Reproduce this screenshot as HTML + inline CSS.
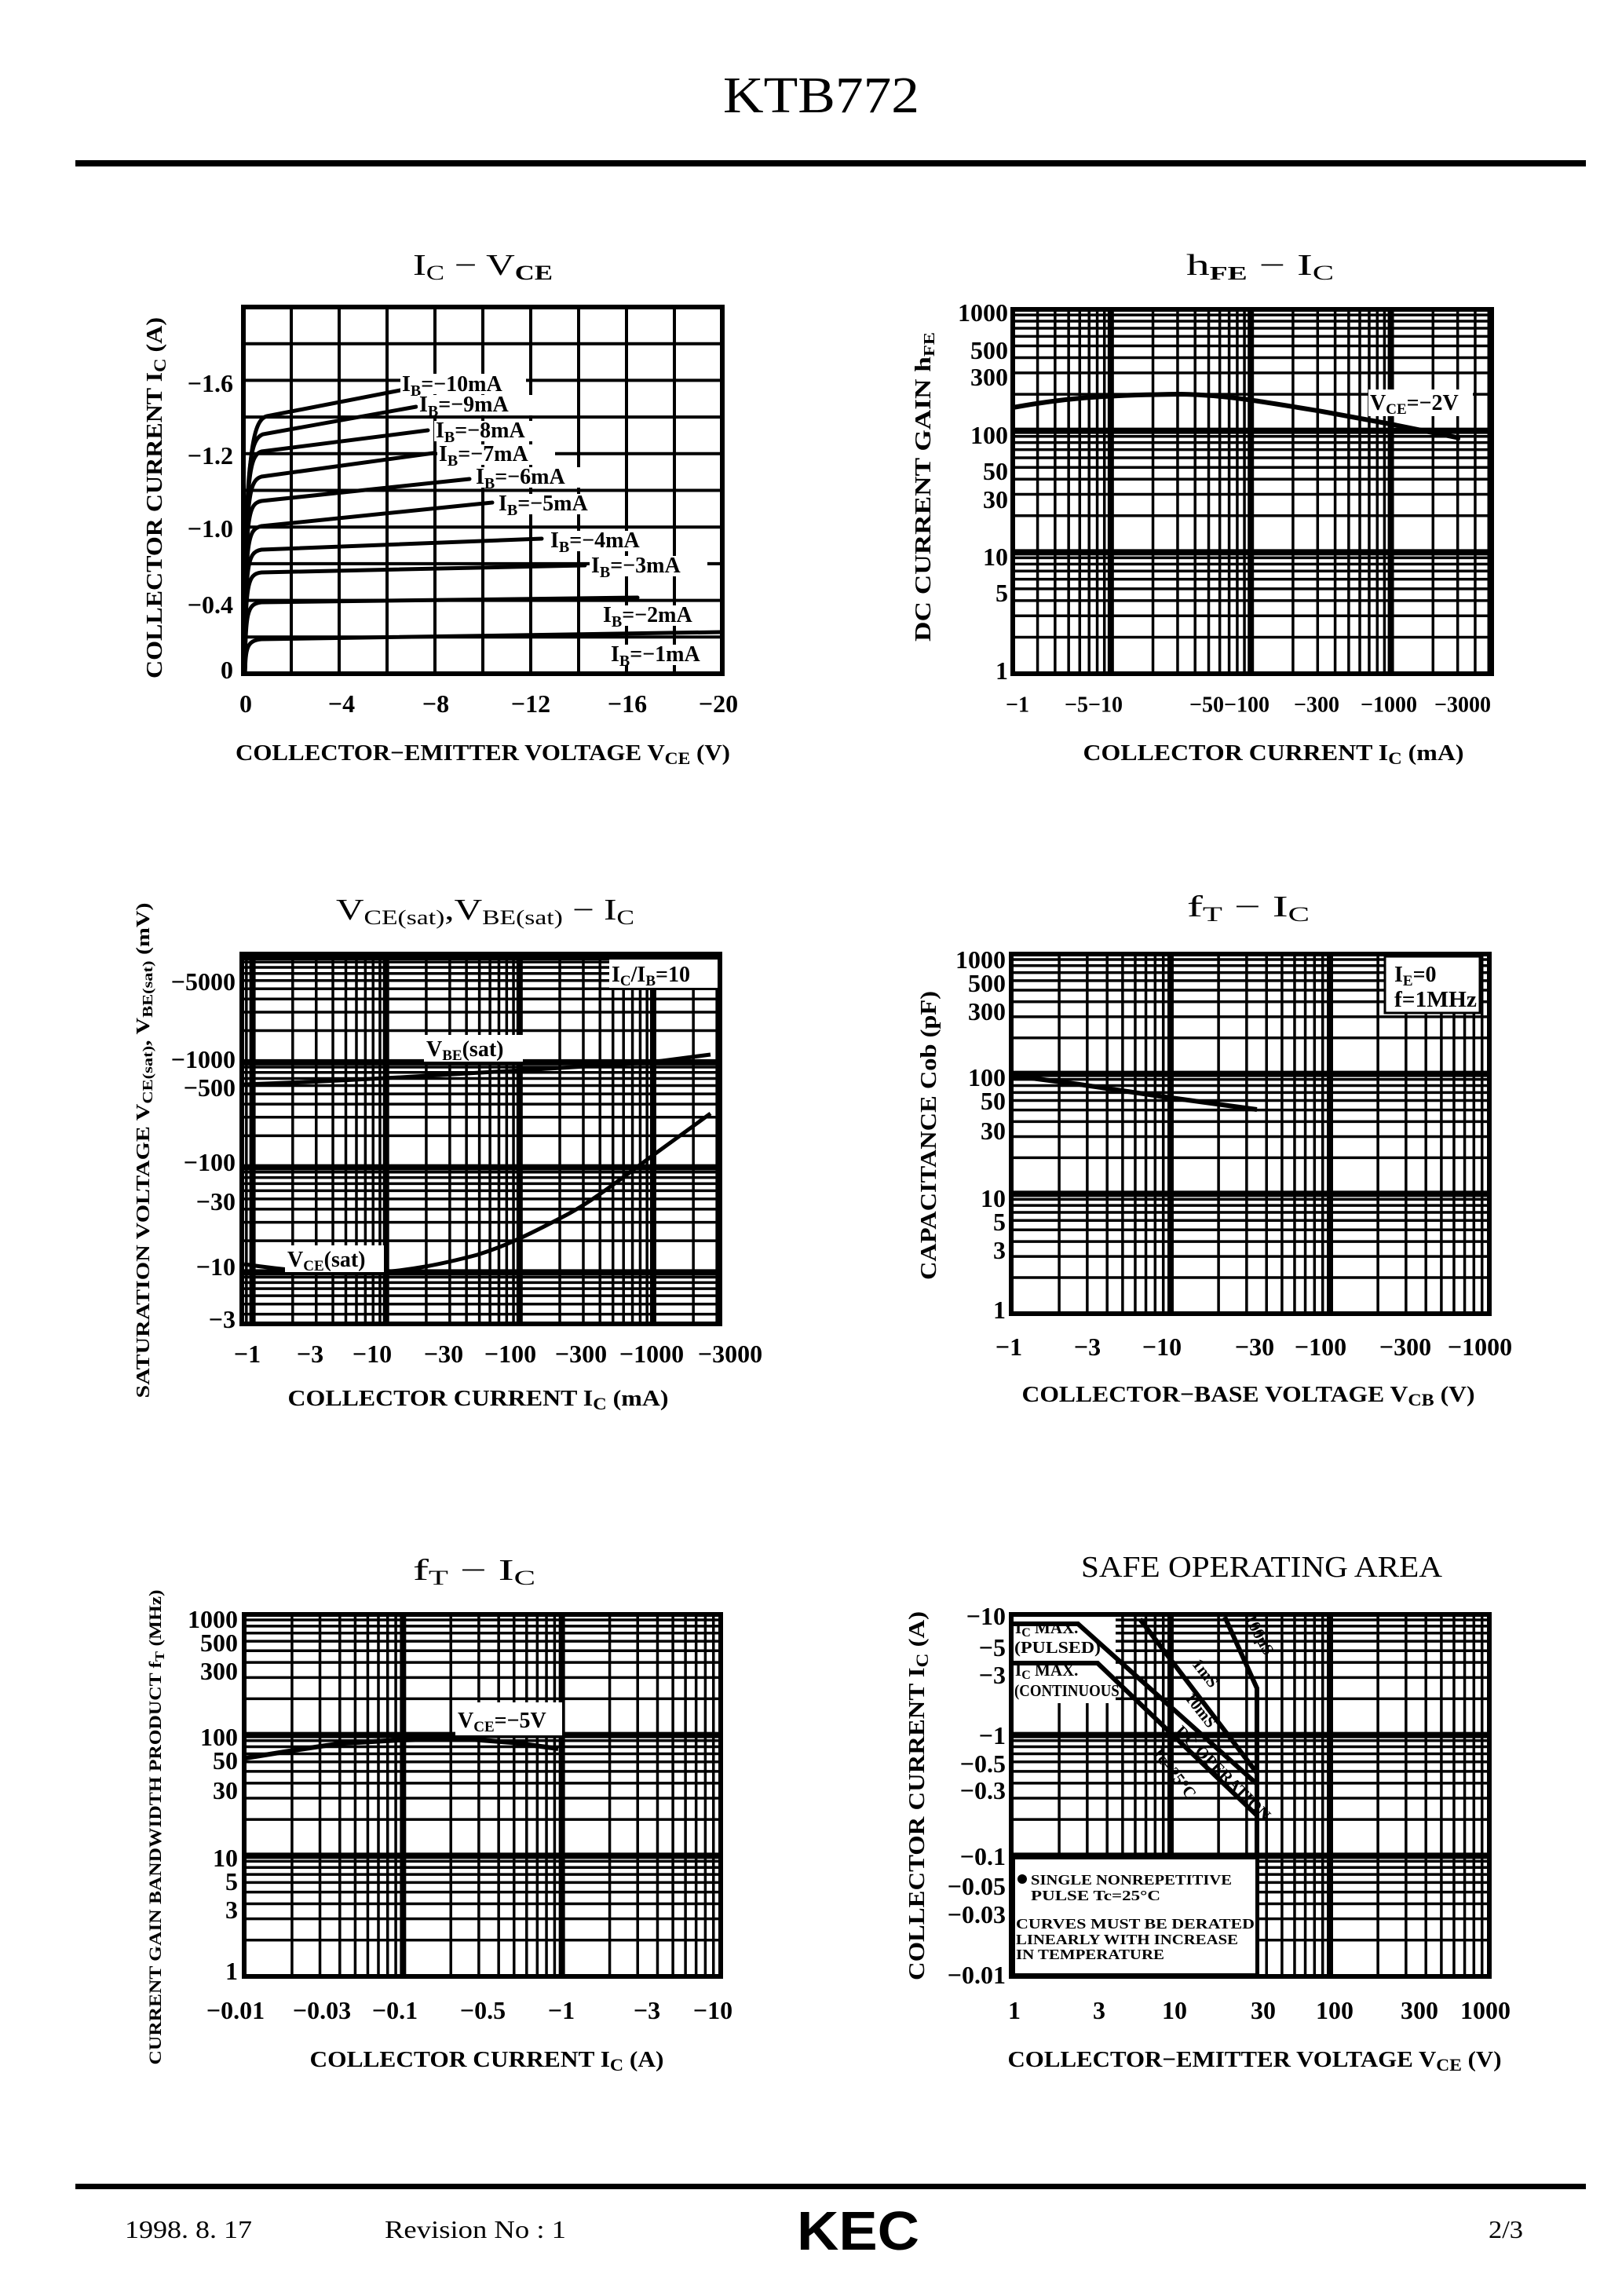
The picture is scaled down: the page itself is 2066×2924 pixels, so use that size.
<!DOCTYPE html>
<html><head><meta charset="utf-8"><style>
html,body{margin:0;padding:0;background:#fff}
svg{display:block}
text{font-family:"Liberation Serif",serif;fill:#000}
.t{font-size:30px;font-weight:bold}
.tk{font-size:32px;font-weight:bold}
.ax{font-size:29px;font-weight:bold}
.ti{font-size:38px}
.lb{font-size:28px;font-weight:bold}
.sm{font-size:21px;font-weight:bold}
.xs{font-size:18px;font-weight:bold}
</style></head><body>
<svg id="s" width="2066" height="2924" viewBox="0 0 2066 2924" xmlns="http://www.w3.org/2000/svg">
<rect width="2066" height="2924" fill="#fff"/>
<!-- header -->
<text x="1046" y="143" text-anchor="middle" style="font-size:66px" textLength="250" lengthAdjust="spacingAndGlyphs">KTB772</text>
<rect x="96" y="204" width="1924" height="8" fill="#000"/>
<!-- footer -->
<rect x="96" y="2781" width="1924" height="7" fill="#000"/>
<text x="159" y="2850" style="font-size:32px" textLength="162" lengthAdjust="spacingAndGlyphs">1998. 8. 17</text>
<text x="490" y="2850" style="font-size:32px" textLength="231" lengthAdjust="spacingAndGlyphs">Revision No : 1</text>
<text x="1015" y="2865" style="font-family:'Liberation Sans',sans-serif;font-size:70px;font-weight:bold" textLength="156" lengthAdjust="spacingAndGlyphs">KEC</text>
<text x="1896" y="2850" style="font-size:32px" textLength="44" lengthAdjust="spacingAndGlyphs">2/3</text>

<g id="grids"></g>

<!-- ============ CHART 1 ============ -->
<text class="ti" x="615" y="350" text-anchor="middle" textLength="178" lengthAdjust="spacingAndGlyphs">I<tspan font-size="26" dy="6">C</tspan><tspan dy="-6">  −  V</tspan><tspan font-size="26" font-weight="bold" dy="6">CE</tspan></text>
<g fill="none" stroke="#000" stroke-width="5" stroke-linecap="round">
<path d="M312,858 C313,600 318,535 340,530 L510,497"/>
<path d="M312,858 C313,600 316,560 335,553 L530,518"/>
<path d="M312,858 C313,620 315,580 333,575 L545,548"/>
<path d="M312,858 C313,640 315,612 333,607 L552,577"/>
<path d="M312,858 C313,660 314,642 333,638 L598,610"/>
<path d="M312,858 C313,690 314,674 333,670 L627,640"/>
<path d="M312,858 C313,720 314,703 333,700 L690,686"/>
<path d="M312,858 C313,745 314,731 333,729 L745,720"/>
<path d="M312,858 C313,780 314,769 333,767 L812,761"/>
<path d="M312,858 C313,825 314,816 333,814 L918,805"/>
</g>
<g class="lb">
<rect x="510" y="476" width="160" height="26" fill="#fff"/>
<text x="512" y="498">I<tspan font-size="20" dy="6">B</tspan><tspan dy="-6">=−10mA</tspan></text>
<rect x="532" y="503" width="150" height="26" fill="#fff"/>
<text x="534" y="524">I<tspan font-size="20" dy="6">B</tspan><tspan dy="-6">=−9mA</tspan></text>
<rect x="553" y="536" width="150" height="26" fill="#fff"/>
<text x="555" y="557">I<tspan font-size="20" dy="6">B</tspan><tspan dy="-6">=−8mA</tspan></text>
<rect x="557" y="566" width="150" height="26" fill="#fff"/>
<text x="559" y="587">I<tspan font-size="20" dy="6">B</tspan><tspan dy="-6">=−7mA</tspan></text>
<rect x="604" y="595" width="150" height="26" fill="#fff"/>
<text x="606" y="616">I<tspan font-size="20" dy="6">B</tspan><tspan dy="-6">=−6mA</tspan></text>
<rect x="633" y="629" width="150" height="26" fill="#fff"/>
<text x="635" y="650">I<tspan font-size="20" dy="6">B</tspan><tspan dy="-6">=−5mA</tspan></text>
<rect x="699" y="676" width="150" height="26" fill="#fff"/>
<text x="701" y="697">I<tspan font-size="20" dy="6">B</tspan><tspan dy="-6">=−4mA</tspan></text>
<rect x="751" y="708" width="150" height="26" fill="#fff"/>
<text x="753" y="729">I<tspan font-size="20" dy="6">B</tspan><tspan dy="-6">=−3mA</tspan></text>
<rect x="766" y="771" width="150" height="26" fill="#fff"/>
<text x="768" y="792">I<tspan font-size="20" dy="6">B</tspan><tspan dy="-6">=−2mA</tspan></text>
<rect x="776" y="821" width="140" height="26" fill="#fff"/>
<text x="778" y="842">I<tspan font-size="20" dy="6">B</tspan><tspan dy="-6">=−1mA</tspan></text>
</g>
<g class="tk" text-anchor="end" dominant-baseline="central">
<text x="297" y="488">−1.6</text><text x="297" y="580">−1.2</text><text x="297" y="673">−1.0</text><text x="297" y="770">−0.4</text><text x="297" y="853">0</text>
</g>
<g class="tk" text-anchor="middle" dominant-baseline="central">
<text x="313" y="896">0</text><text x="435" y="896">−4</text><text x="555" y="896">−8</text><text x="676" y="896">−12</text><text x="799" y="896">−16</text><text x="915" y="896">−20</text>
</g>
<text class="ax" x="615" y="968" text-anchor="middle" textLength="630" lengthAdjust="spacingAndGlyphs">COLLECTOR−EMITTER  VOLTAGE  V<tspan font-size="22" dy="5">CE</tspan><tspan dy="-5">  (V)</tspan></text>
<text class="ax" transform="translate(206,634) rotate(-90)" text-anchor="middle" textLength="460" lengthAdjust="spacingAndGlyphs">COLLECTOR  CURRENT  I<tspan font-size="22" dy="5">C</tspan><tspan dy="-5">  (A)</tspan></text>

<!-- ============ CHART 2 ============ -->
<text class="ti" x="1605" y="350" text-anchor="middle" textLength="188" lengthAdjust="spacingAndGlyphs">h<tspan font-size="24" font-weight="bold" dy="6">FE</tspan><tspan dy="-6">  −  I</tspan><tspan font-size="26" dy="6">C</tspan></text>
<path d="M1290,519 C1350,508 1400,503 1504,502 C1560,503 1600,510 1684,524 L1771,540 L1860,558" fill="none" stroke="#000" stroke-width="6"/>
<rect x="1743" y="496" width="133" height="34" fill="#fff"/>
<text class="lb" x="1745" y="522">V<tspan font-size="19" dy="5">CE</tspan><tspan dy="-5">=−2V</tspan></text>
<g class="tk" text-anchor="end" dominant-baseline="central">
<text x="1284" y="398">1000</text><text x="1284" y="446">500</text><text x="1284" y="480">300</text><text x="1284" y="554">100</text><text x="1284" y="600">50</text><text x="1284" y="636">30</text><text x="1284" y="709">10</text><text x="1284" y="755">5</text><text x="1284" y="854">1</text>
</g>
<g class="tk" text-anchor="middle" dominant-baseline="central" style="font-size:28px">
<text x="1296" y="898">−1</text><text x="1393" y="898">−5−10</text><text x="1566" y="898">−50−100</text><text x="1677" y="898">−300</text><text x="1769" y="898">−1000</text><text x="1863" y="898">−3000</text>
</g>
<text class="ax" x="1622" y="968" text-anchor="middle" textLength="485" lengthAdjust="spacingAndGlyphs">COLLECTOR  CURRENT  I<tspan font-size="22" dy="5">C</tspan><tspan dy="-5">  (mA)</tspan></text>
<text class="ax" transform="translate(1185,620) rotate(-90)" text-anchor="middle" textLength="394" lengthAdjust="spacingAndGlyphs">DC  CURRENT  GAIN  h<tspan font-size="20" dy="5">FE</tspan></text>

<!-- ============ CHART 3 ============ -->
<text class="ti" x="618" y="1171" text-anchor="middle" textLength="380" lengthAdjust="spacingAndGlyphs">V<tspan font-size="26" dy="6">CE(sat)</tspan><tspan dy="-6">,V</tspan><tspan font-size="26" dy="6">BE(sat)</tspan><tspan dy="-6">  −  I</tspan><tspan font-size="26" dy="6">C</tspan></text>
<g fill="none" stroke="#000" stroke-width="5">
<path d="M311,1381 C400,1378 480,1374 560,1369 C650,1364 750,1358 828,1353 L905,1343"/>
<path d="M311,1610 C360,1617 410,1622 455,1622 C520,1620 570,1608 608,1598 C640,1588 665,1577 722,1547 C750,1532 777,1512 828,1474 L905,1418"/>
</g>
<rect x="540" y="1318" width="126" height="34" fill="#fff"/>
<text class="lb" x="543" y="1345">V<tspan font-size="19" dy="5">BE</tspan><tspan dy="-5">(sat)</tspan></text>
<rect x="363" y="1586" width="126" height="34" fill="#fff"/>
<text class="lb" x="366" y="1613">V<tspan font-size="19" dy="5">CE</tspan><tspan dy="-5">(sat)</tspan></text>
<rect x="776" y="1222" width="138" height="36" fill="#fff"/>
<text class="lb" x="779" y="1250">I<tspan font-size="19" dy="5">C</tspan><tspan dy="-5">/I</tspan><tspan font-size="19" dy="5">B</tspan><tspan dy="-5">=10</tspan></text>
<g class="tk" text-anchor="end" dominant-baseline="central">
<text x="300" y="1250">−5000</text><text x="300" y="1349">−1000</text><text x="300" y="1385">−500</text><text x="300" y="1480">−100</text><text x="300" y="1530">−30</text><text x="300" y="1613">−10</text><text x="300" y="1680">−3</text>
</g>
<g class="tk" text-anchor="middle" dominant-baseline="central">
<text x="315" y="1724">−1</text><text x="395" y="1724">−3</text><text x="474" y="1724">−10</text><text x="565" y="1724">−30</text><text x="650" y="1724">−100</text><text x="740" y="1724">−300</text><text x="830" y="1724">−1000</text><text x="930" y="1724">−3000</text>
</g>
<text class="ax" x="609" y="1790" text-anchor="middle" textLength="485" lengthAdjust="spacingAndGlyphs">COLLECTOR  CURRENT  I<tspan font-size="22" dy="5">C</tspan><tspan dy="-5">  (mA)</tspan></text>
<text class="ax" transform="translate(190,1465) rotate(-90)" text-anchor="middle" style="font-size:24px" textLength="631" lengthAdjust="spacingAndGlyphs">SATURATION  VOLTAGE  V<tspan font-size="18" dy="4">CE(sat)</tspan><tspan dy="-4">, V</tspan><tspan font-size="18" dy="4">BE(sat)</tspan><tspan dy="-4">  (mV)</tspan></text>

<!-- ============ CHART 4 ============ -->
<text class="ti" x="1590" y="1167" text-anchor="middle" textLength="156" lengthAdjust="spacingAndGlyphs">f<tspan font-size="26" dy="6">T</tspan><tspan dy="-6">  −  I</tspan><tspan font-size="26" dy="6">C</tspan></text>
<path d="M1291,1370 L1375,1381 L1484,1397 L1601,1413" fill="none" stroke="#000" stroke-width="6"/>
<rect x="1764" y="1218" width="121" height="72" fill="#fff" stroke="#000" stroke-width="3"/>
<text class="lb" x="1776" y="1250">I<tspan font-size="19" dy="5">E</tspan><tspan dy="-5">=0</tspan></text>
<text class="lb" x="1776" y="1282" textLength="105" lengthAdjust="spacingAndGlyphs">f=1MHz</text>
<g class="tk" text-anchor="end" dominant-baseline="central">
<text x="1281" y="1222">1000</text><text x="1281" y="1252">500</text><text x="1281" y="1288">300</text><text x="1281" y="1372">100</text><text x="1281" y="1402">50</text><text x="1281" y="1440">30</text><text x="1281" y="1526">10</text><text x="1281" y="1556">5</text><text x="1281" y="1592">3</text><text x="1281" y="1668">1</text>
</g>
<g class="tk" text-anchor="middle" dominant-baseline="central">
<text x="1285" y="1715">−1</text><text x="1385" y="1715">−3</text><text x="1480" y="1715">−10</text><text x="1598" y="1715">−30</text><text x="1682" y="1715">−100</text><text x="1790" y="1715">−300</text><text x="1885" y="1715">−1000</text>
</g>
<text class="ax" x="1590" y="1785" text-anchor="middle" textLength="577" lengthAdjust="spacingAndGlyphs">COLLECTOR−BASE  VOLTAGE  V<tspan font-size="22" dy="5">CB</tspan><tspan dy="-5">  (V)</tspan></text>
<text class="ax" transform="translate(1192,1446) rotate(-90)" text-anchor="middle" textLength="368" lengthAdjust="spacingAndGlyphs">CAPACITANCE  Cob  (pF)</text>

<!-- ============ CHART 5 ============ -->
<text class="ti" x="604" y="2012" text-anchor="middle" textLength="156" lengthAdjust="spacingAndGlyphs">f<tspan font-size="26" dy="6">T</tspan><tspan dy="-6">  −  I</tspan><tspan font-size="26" dy="6">C</tspan></text>
<path d="M313,2239 C380,2228 420,2222 439,2220 L510,2216 L586,2214 L651,2219 L711,2227" fill="none" stroke="#000" stroke-width="6"/>
<rect x="580" y="2168" width="136" height="42" fill="#fff"/>
<text class="lb" x="583" y="2200">V<tspan font-size="19" dy="5">CE</tspan><tspan dy="-5">=−5V</tspan></text>
<g class="tk" text-anchor="end" dominant-baseline="central">
<text x="303" y="2062">1000</text><text x="303" y="2092">500</text><text x="303" y="2128">300</text><text x="303" y="2212">100</text><text x="303" y="2242">50</text><text x="303" y="2280">30</text><text x="303" y="2366">10</text><text x="303" y="2396">5</text><text x="303" y="2432">3</text><text x="303" y="2510">1</text>
</g>
<g class="tk" text-anchor="middle" dominant-baseline="central">
<text x="300" y="2560">−0.01</text><text x="410" y="2560">−0.03</text><text x="503" y="2560">−0.1</text><text x="615" y="2560">−0.5</text><text x="715" y="2560">−1</text><text x="824" y="2560">−3</text><text x="908" y="2560">−10</text>
</g>
<text class="ax" x="620" y="2632" text-anchor="middle" textLength="451" lengthAdjust="spacingAndGlyphs">COLLECTOR  CURRENT  I<tspan font-size="22" dy="5">C</tspan><tspan dy="-5">  (A)</tspan></text>
<text class="ax" transform="translate(205,2327) rotate(-90)" text-anchor="middle" style="font-size:22px" textLength="605" lengthAdjust="spacingAndGlyphs">CURRENT  GAIN  BANDWIDTH  PRODUCT  f<tspan font-size="17" dy="4">T</tspan><tspan dy="-4">  (MHz)</tspan></text>

<!-- ============ CHART 6 ============ -->
<text class="ti" x="1607" y="2008" text-anchor="middle" textLength="460" lengthAdjust="spacingAndGlyphs">SAFE  OPERATING  AREA</text>
<rect x="1291" y="2059" width="130" height="110" fill="#fff"/>
<g fill="none" stroke="#000" stroke-width="6">
<path d="M1288,2068 L1373,2068 L1601,2272"/>
<path d="M1452,2062 L1601,2258"/>
<path d="M1288,2118 L1398,2118 L1601,2312"/>
<path d="M1560,2059 L1601,2150 L1601,2517"/>
</g>
<g class="sm">
<text x="1293" y="2080">I<tspan font-size="16" dy="4">C</tspan><tspan dy="-4">  MAX.</tspan></text>
<text x="1292" y="2105" textLength="110" lengthAdjust="spacingAndGlyphs">(PULSED)</text>
<text x="1293" y="2134">I<tspan font-size="16" dy="4">C</tspan><tspan dy="-4">  MAX.</tspan></text>
<text x="1292" y="2160" textLength="140" lengthAdjust="spacingAndGlyphs">(CONTINUOUS)</text>
</g>
<g class="sm">
<text transform="translate(1530,2135) rotate(52)" text-anchor="middle">1mS</text>
<text transform="translate(1524,2182) rotate(52)" text-anchor="middle">10mS</text>
<text transform="translate(1598,2085) rotate(62)" text-anchor="middle">100μS</text>
<text transform="translate(1553,2263) rotate(45)" text-anchor="middle">DC  OPERATION</text>
<text transform="translate(1490,2262) rotate(52)" text-anchor="middle">Tc=25°C</text>
</g>
<rect x="1291" y="2366" width="310" height="149" fill="#fff" stroke="#000" stroke-width="4"/>
<g class="xs">
<circle cx="1302" cy="2393" r="6" fill="#000"/>
<text x="1313" y="2400" textLength="256" lengthAdjust="spacingAndGlyphs">SINGLE  NONREPETITIVE</text>
<text x="1313" y="2420" textLength="165" lengthAdjust="spacingAndGlyphs">PULSE  Tc=25°C</text>
<text x="1294" y="2456" textLength="304" lengthAdjust="spacingAndGlyphs">CURVES  MUST  BE  DERATED</text>
<text x="1294" y="2476" textLength="283" lengthAdjust="spacingAndGlyphs">LINEARLY  WITH  INCREASE</text>
<text x="1294" y="2495" textLength="189" lengthAdjust="spacingAndGlyphs">IN  TEMPERATURE</text>
</g>
<g class="tk" text-anchor="end" dominant-baseline="central">
<text x="1281" y="2058">−10</text><text x="1281" y="2098">−5</text><text x="1281" y="2133">−3</text><text x="1281" y="2210">−1</text><text x="1281" y="2246">−0.5</text><text x="1281" y="2280">−0.3</text><text x="1281" y="2364">−0.1</text><text x="1281" y="2402">−0.05</text><text x="1281" y="2438">−0.03</text><text x="1281" y="2515">−0.01</text>
</g>
<g class="tk" text-anchor="middle" dominant-baseline="central">
<text x="1292" y="2560">1</text><text x="1400" y="2560">3</text><text x="1496" y="2560">10</text><text x="1609" y="2560">30</text><text x="1700" y="2560">100</text><text x="1808" y="2560">300</text><text x="1892" y="2560">1000</text>
</g>
<text class="ax" x="1598" y="2632" text-anchor="middle" textLength="629" lengthAdjust="spacingAndGlyphs">COLLECTOR−EMITTER  VOLTAGE  V<tspan font-size="22" dy="5">CE</tspan><tspan dy="-5">  (V)</tspan></text>
<text class="ax" transform="translate(1177,2287) rotate(-90)" text-anchor="middle" textLength="470" lengthAdjust="spacingAndGlyphs">COLLECTOR  CURRENT  I<tspan font-size="22" dy="5">C</tspan><tspan dy="-5">  (A)</tspan></text>
</svg>
<script>
(function(){
var NS="http://www.w3.org/2000/svg",g=document.getElementById("grids");
function L(x1,y1,x2,y2,w){var l=document.createElementNS(NS,"line");l.setAttribute("x1",x1);l.setAttribute("y1",y1);l.setAttribute("x2",x2);l.setAttribute("y2",y2);l.setAttribute("stroke","#000");l.setAttribute("stroke-width",w);g.appendChild(l);}
function R(x0,y0,x1,y1){var r=document.createElementNS(NS,"rect");r.setAttribute("x",x0);r.setAttribute("y",y0);r.setAttribute("width",x1-x0);r.setAttribute("height",y1-y0);r.setAttribute("fill","none");r.setAttribute("stroke","#000");r.setAttribute("stroke-width",6);g.appendChild(r);}
function lg(X0,X1,Y0,Y1,xl,xh,yl,yh){
 var d,m,v,p;
 for(d=Math.floor(xl);d<=Math.ceil(xh);d++)for(m=1;m<=9;m++){v=d+Math.log10(m);if(v<=xl+0.005||v>=xh-0.005)continue;p=X0+(v-xl)/(xh-xl)*(X1-X0);L(p,Y0,p,Y1,m==1?8:3.5);}
 for(d=Math.floor(yl);d<=Math.ceil(yh);d++)for(m=1;m<=9;m++){v=d+Math.log10(m);if(v<=yl+0.005||v>=yh-0.005)continue;p=Y1-(v-yl)/(yh-yl)*(Y1-Y0);L(X0,p,X1,p,m==1?8:3.5);}
 R(X0,Y0,X1,Y1);
}
var i;for(i=1;i<10;i++){L(310+i*61,391,310+i*61,858,4);L(310,391+i*46.7,920,391+i*46.7,4);}R(310,391,920,858);
lg(1290,1900,394,858,0.30,3.72,0,3);
lg(308,917,1215,1686,-0.08,3.5,0.51,4.03);
lg(1288,1897,1215,1673,0,3,0,3);
lg(311,918,2056,2517,-2,1,0,3);
lg(1288,1897,2056,2517,0,3,-2,1);
})();
</script>
</body></html>
